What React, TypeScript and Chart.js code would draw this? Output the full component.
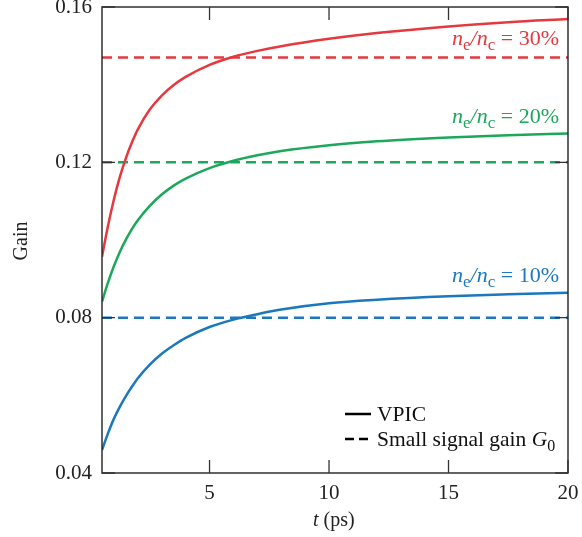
import React, { useEffect, useRef } from "react";
import { Chart, registerables } from "chart.js";

Chart.register(...registerables);

const times = [0.5, 0.75, 1, 1.25, 1.5, 1.75, 2, 2.5, 3, 3.5, 4, 5, 6, 7, 8, 10, 12, 15, 17.5, 20];
const vpic30 = [0.0957, 0.1036, 0.1105, 0.1163, 0.1211, 0.1251, 0.1285, 0.1336, 0.1372, 0.1399, 0.142, 0.1451, 0.1472, 0.1487, 0.1499, 0.1518, 0.1533, 0.155, 0.1561, 0.1569];
const vpic20 = [0.0841, 0.089, 0.0933, 0.097, 0.1001, 0.1028, 0.1051, 0.1088, 0.1117, 0.114, 0.1158, 0.1185, 0.1204, 0.1218, 0.1229, 0.1244, 0.1254, 0.1264, 0.127, 0.1274];
const vpic10 = [0.0459, 0.0502, 0.054, 0.0571, 0.0598, 0.0622, 0.0644, 0.0679, 0.0707, 0.0729, 0.0748, 0.0776, 0.0795, 0.0809, 0.0821, 0.0837, 0.0846, 0.0855, 0.086, 0.0864];
const smallSignalGain = [0.147, 0.12, 0.08];
const ratios = ["30%", "20%", "10%"];
const colors = ["#e5383f", "#1ba85b", "#1b78bf"];
const xTicks = [5, 10, 15, 20];
const yTicks = [0.04, 0.08, 0.12, 0.16];
const xRange = [0.5, 20];
const yRange = [0.04, 0.16];

const FONT = '"Liberation Serif", "Times New Roman", serif';

type Seg = { t: string; italic?: boolean; sub?: boolean };

function drawRich(ctx: CanvasRenderingContext2D, segs: Seg[], x: number, y: number, size: number, align: "left" | "right", color: string) {
  const subSize = Math.round(size * 0.75);
  const fontOf = (s: Seg) => `${s.italic ? "italic " : ""}${s.sub ? subSize : size}px ${FONT}`;
  let total = 0;
  for (const s of segs) {
    ctx.font = fontOf(s);
    total += ctx.measureText(s.t).width;
  }
  let cx = align === "right" ? x - total : x;
  ctx.fillStyle = color;
  ctx.textBaseline = "alphabetic";
  ctx.textAlign = "left";
  for (const s of segs) {
    ctx.font = fontOf(s);
    ctx.fillText(s.t, cx, s.sub ? y + size * 0.22 : y);
    cx += ctx.measureText(s.t).width;
  }
}

const decorPlugin = {
  id: "decor",
  afterDraw(chart: any) {
    const { ctx, chartArea: a, scales } = chart;
    const xs = scales.x;
    const ys = scales.y;
    ctx.save();
    ctx.strokeStyle = "#222";
    ctx.lineWidth = 1.4;
    ctx.strokeRect(a.left, a.top, a.right - a.left, a.bottom - a.top);
    const tl = 13;
    ctx.strokeStyle = "#333";
    ctx.lineWidth = 1.3;
    ctx.beginPath();
    for (const v of xTicks) {
      const px = xs.getPixelForValue(v);
      ctx.moveTo(px, a.bottom);
      ctx.lineTo(px, a.bottom - tl);
      ctx.moveTo(px, a.top);
      ctx.lineTo(px, a.top + tl);
    }
    for (const v of yTicks) {
      const py = ys.getPixelForValue(v);
      ctx.moveTo(a.left, py);
      ctx.lineTo(a.left + tl, py);
      ctx.moveTo(a.right, py);
      ctx.lineTo(a.right - tl, py);
    }
    ctx.stroke();

    const labelY = [45, 123, 282];
    ratios.forEach((r, i) => {
      drawRich(
        ctx,
        [
          { t: "n", italic: true },
          { t: "e", sub: true },
          { t: "/", italic: true },
          { t: "n", italic: true },
          { t: "c", sub: true },
          { t: " = " + r },
        ],
        a.right - 9,
        labelY[i],
        22,
        "right",
        colors[i]
      );
    });

    ctx.strokeStyle = "#000";
    ctx.lineWidth = 2.5;
    ctx.setLineDash([]);
    ctx.beginPath();
    ctx.moveTo(345, 414);
    ctx.lineTo(371, 414);
    ctx.stroke();
    ctx.setLineDash([9, 5]);
    ctx.beginPath();
    ctx.moveTo(345, 439);
    ctx.lineTo(372, 439);
    ctx.stroke();
    ctx.setLineDash([]);
    drawRich(ctx, [{ t: "VPIC" }], 377, 421, 21.5, "left", "#111");
    drawRich(ctx, [{ t: "Small signal gain " }, { t: "G", italic: true }, { t: "0", sub: true }], 377, 446, 21.5, "left", "#111");

    drawRich(ctx, [{ t: "t", italic: true }, { t: " (ps)" }], (a.left + a.right) / 2 - 22, 526, 20, "left", "#222");
    ctx.save();
    ctx.translate(27, 241);
    ctx.rotate(-Math.PI / 2);
    ctx.font = `20px ${FONT}`;
    ctx.fillStyle = "#222";
    ctx.textAlign = "center";
    ctx.textBaseline = "alphabetic";
    ctx.fillText("Gain", 0, 0);
    ctx.restore();

    ctx.restore();
  },
};

export default function App() {
  const ref = useRef<HTMLCanvasElement>(null);
  useEffect(() => {
    if (!ref.current) return;
    const vpicSeries = [vpic30, vpic20, vpic10];
    const datasets: any[] = [];
    vpicSeries.forEach((vals, i) => {
      datasets.push({
        label: "VPIC " + ratios[i],
        data: times.map((t, k) => ({ x: t, y: vals[k] })),
        borderColor: colors[i],
        borderWidth: 2.5,
        pointRadius: 0,
        cubicInterpolationMode: "monotone",
        fill: false,
      });
      datasets.push({
        label: "G0 " + ratios[i],
        data: xRange.map((t) => ({ x: t, y: smallSignalGain[i] })),
        borderColor: colors[i],
        borderWidth: 2.5,
        borderDash: [10, 6],
        pointRadius: 0,
        fill: false,
      });
    });
    const chart = new Chart(ref.current, {
      type: "line",
      data: { datasets },
      options: {
        animation: false,
        responsive: false,
        layout: { padding: { top: 7, right: 14, left: 0, bottom: 0 } },
        plugins: { legend: { display: false }, tooltip: { enabled: false } },
        scales: {
          x: {
            type: "linear",
            min: xRange[0],
            max: xRange[1],
            grid: { display: false, drawTicks: false },
            border: { display: false },
            afterBuildTicks: (s: any) => {
              s.ticks = xTicks.map((v) => ({ value: v }));
            },
            afterFit: (s: any) => {
              s.height = 64;
              s.paddingLeft = 0;
              s.paddingRight = 0;
            },
            ticks: {
              padding: 8,
              color: "#222",
              font: { family: FONT, size: 21 },
              callback: (v: any) => String(v),
            },
          },
          y: {
            type: "linear",
            min: yRange[0],
            max: yRange[1],
            grid: { display: false, drawTicks: false },
            border: { display: false },
            afterBuildTicks: (s: any) => {
              s.ticks = yTicks.map((v) => ({ value: v }));
            },
            afterFit: (s: any) => {
              s.width = 102;
              s.paddingTop = 0;
              s.paddingBottom = 0;
            },
            ticks: {
              padding: 10,
              color: "#222",
              font: { family: FONT, size: 21 },
              callback: (v: any) => Number(v).toFixed(2),
            },
          },
        },
      },
      plugins: [decorPlugin],
    });
    return () => chart.destroy();
  }, []);
  return (
    <div style={{ position: "absolute", left: 0, top: 0, width: 582, height: 537, background: "#fff" }}>
      <canvas ref={ref} width={582} height={537} />
    </div>
  );
}
